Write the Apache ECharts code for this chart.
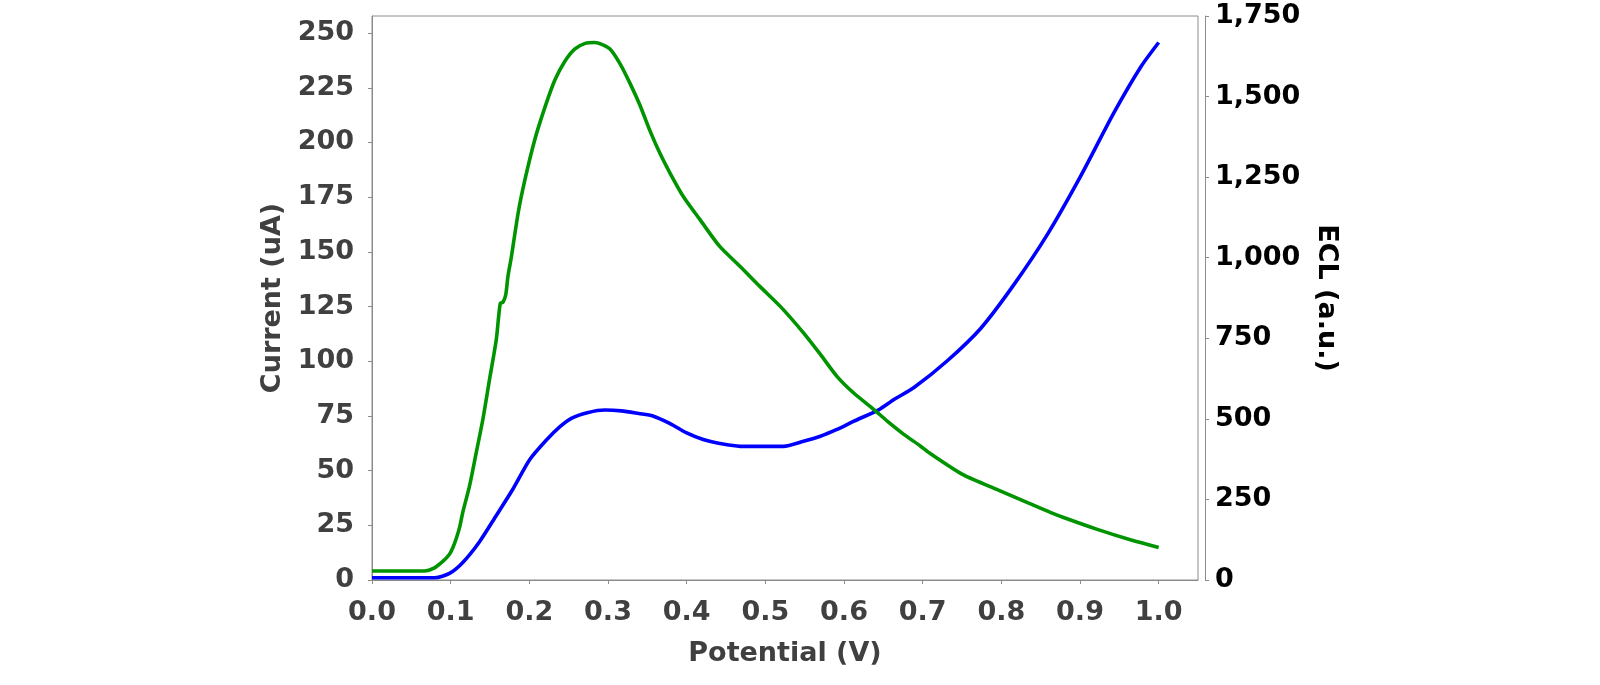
<!DOCTYPE html>
<html>
<head>
<meta charset="utf-8">
<script src="https://cdn.jsdelivr.net/npm/echarts@6/dist/echarts.min.js"></script>
<style>
html,body{margin:0;padding:0;background:#fff;}
#chart{width:1600px;height:685px;}
</style>
</head>
<body>
<div id="chart"></div>
<script>
// Tick labels
var xTicks = [0, 0.1, 0.2, 0.3, 0.4, 0.5, 0.6, 0.7, 0.8, 0.9, 1.0];
var leftTicks = [0, 25, 50, 75, 100, 125, 150, 175, 200, 225, 250];
var rightTicks = [0, 250, 500, 750, 1000, 1250, 1500, 1750];

// Current (uA) vs potential (blue, left axis)
var currentV = [0.000, 0.080, 0.0985, 0.1154, 0.1367, 0.158, 0.179, 0.2004, 0.2217, 0.2386, 0.254, 0.275, 0.296, 0.317, 0.339, 0.357, 0.379, 0.400, 0.421, 0.442, 0.468, 0.493, 0.523, 0.5485, 0.570, 0.591, 0.612, 0.644, 0.663, 0.689, 0.731, 0.774, 0.816, 0.859, 0.901, 0.943, 0.977, 1.000];
var currentI = [1.0, 1.0, 3.0, 8.0, 17.5, 29.5, 41.5, 55.0, 64.0, 70.0, 74.0, 76.6, 77.7, 77.3, 76.1, 75.0, 71.5, 67.2, 64.2, 62.4, 61.1, 61.1, 61.1, 63.4, 65.7, 68.8, 72.5, 77.8, 82.4, 88.0, 100.1, 115.1, 135.0, 158.2, 184.7, 213.5, 234.4, 245.7];

// ECL (a.u.) vs potential (green, right axis)
var eclV = [0.000, 0.067, 0.078, 0.090, 0.0985, 0.1027, 0.107, 0.1115, 0.1154, 0.124, 0.1325, 0.1409, 0.1494, 0.158, 0.163, 0.1665, 0.170, 0.1728, 0.177, 0.186, 0.1945, 0.207, 0.220, 0.2326, 0.245, 0.258, 0.271, 0.283, 0.302, 0.315, 0.328, 0.3405, 0.353, 0.366, 0.379, 0.3957, 0.417, 0.442, 0.468, 0.493, 0.519, 0.5485, 0.570, 0.591, 0.612, 0.638, 0.655, 0.676, 0.697, 0.710, 0.752, 0.797, 0.837, 0.863, 0.880, 0.922, 0.965, 1.000];
var eclE = [28, 28, 36, 58, 80, 100, 128, 165, 210, 292, 395, 498, 622, 746, 858, 862, 885, 942, 1000, 1142, 1243, 1367, 1468, 1552, 1609, 1648, 1665, 1668, 1649, 1603, 1541, 1474, 1396, 1324, 1262, 1190, 1118, 1035, 973, 911, 849, 767, 700, 632, 581, 529, 493, 452, 416, 392, 326, 278, 236, 209, 193, 157, 124, 101];

function pairs(xs, ys) {
  var out = [];
  for (var i = 0; i < xs.length; i++) out.push([xs[i], ys[i]]);
  return out;
}

var FONT = 'DejaVu Sans';
var GRAY_TXT = '#404040';
var AXIS_GRAY = '#8c8c8c';

var chart = echarts.init(document.getElementById('chart'), null, {renderer: 'canvas'});
chart.setOption({
  animation: false,
  backgroundColor: '#fff',
  grid: {
    left: 372, top: 16, right: 402, bottom: 105,
    show: true, borderColor: AXIS_GRAY, borderWidth: 1,
    containLabel: false, outerBoundsMode: 'none'
  },
  xAxis: {
    type: 'value', min: 0, max: 1.05, offset: 7,
    name: 'Potential (V)', nameLocation: 'middle', nameGap: 53,
    nameTextStyle: {fontFamily: FONT, fontWeight: 'bold', fontSize: 27, color: GRAY_TXT},
    axisLine: {show: true, lineStyle: {color: AXIS_GRAY, width: 1}},
    axisTick: {show: true, length: 4, lineStyle: {color: AXIS_GRAY}, customValues: xTicks},
    axisLabel: {customValues: xTicks, margin: 12, fontFamily: FONT, fontWeight: 'bold', fontSize: 27, color: GRAY_TXT,
      formatter: function (v) { return v.toFixed(1); }},
    splitLine: {show: false}
  },
  yAxis: [{
    type: 'value', min: 0, max: 257.8, position: 'left', offset: 6,
    name: 'Current (uA)', nameLocation: 'middle', nameGap: 80, nameRotate: 90,
    nameTextStyle: {fontFamily: FONT, fontWeight: 'bold', fontSize: 27, color: GRAY_TXT},
    axisLine: {show: true, lineStyle: {color: AXIS_GRAY, width: 1}},
    axisTick: {show: true, length: 4, lineStyle: {color: AXIS_GRAY}, customValues: leftTicks},
    axisLabel: {customValues: leftTicks, margin: 12, fontFamily: FONT, fontWeight: 'bold', fontSize: 27, color: GRAY_TXT},
    splitLine: {show: false}
  }, {
    type: 'value', min: 0, max: 1750, position: 'right', offset: 7,
    name: 'ECL (a.u.)', nameLocation: 'middle', nameGap: 108, nameRotate: -90,
    nameTextStyle: {fontFamily: FONT, fontWeight: 'bold', fontSize: 27, color: '#000'},
    axisLine: {show: true, lineStyle: {color: AXIS_GRAY, width: 1}},
    axisTick: {show: true, length: 4, lineStyle: {color: AXIS_GRAY}, customValues: rightTicks},
    axisLabel: {customValues: rightTicks, margin: 10, fontFamily: FONT, fontWeight: 'bold', fontSize: 27, color: '#000',
      formatter: function (v) { return v.toLocaleString('en-US'); }},
    splitLine: {show: false}
  }],
  series: [{
    name: 'Current', type: 'line', yAxisIndex: 0,
    data: pairs(currentV, currentI),
    showSymbol: false, smooth: 0.25,
    lineStyle: {color: '#0000ff', width: 3.6},
    itemStyle: {color: '#0000ff'}
  }, {
    name: 'ECL', type: 'line', yAxisIndex: 1,
    data: pairs(eclV, eclE),
    showSymbol: false, smooth: 0.25,
    lineStyle: {color: '#009400', width: 3.6},
    itemStyle: {color: '#009400'}
  }]
});
</script>
</body>
</html>
